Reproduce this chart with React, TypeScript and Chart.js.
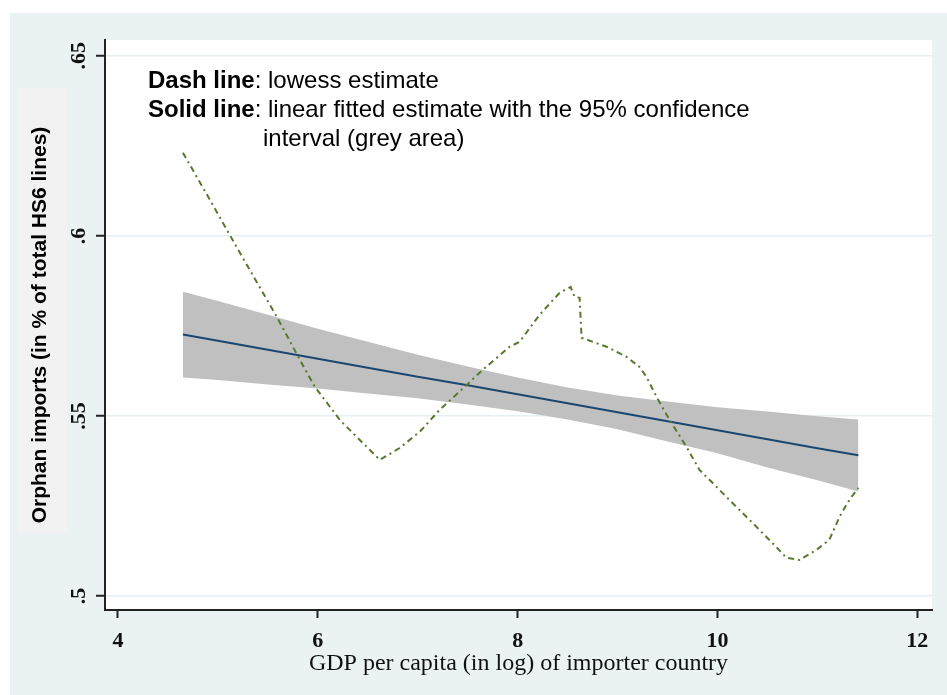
import React, { useEffect, useRef } from "react";
import { Chart, registerables } from "chart.js";
Chart.register(...registerables);

// Lowess estimate (dashed green)
const lowessX = [4.65, 4.92, 5.22, 5.59, 5.82, 5.97, 6.22, 6.45, 6.62, 6.82, 7.02, 7.22, 7.49, 7.65, 7.92, 8.02, 8.22, 8.42, 8.53, 8.57, 8.62, 8.64, 8.89, 9.09, 9.22, 9.29, 9.39, 9.52, 9.69, 9.82, 9.99, 10.19, 10.39, 10.55, 10.69, 10.82, 10.99, 11.12, 11.22, 11.32, 11.41];
const lowessY = [0.6231, 0.61, 0.5953, 0.5775, 0.5656, 0.5581, 0.5489, 0.5425, 0.5378, 0.5411, 0.5456, 0.5517, 0.5586, 0.5628, 0.5692, 0.5706, 0.5781, 0.5842, 0.5858, 0.5831, 0.5828, 0.5717, 0.5692, 0.5664, 0.5636, 0.5608, 0.5553, 0.5489, 0.5414, 0.535, 0.5303, 0.5247, 0.5192, 0.5147, 0.5106, 0.51, 0.5128, 0.5156, 0.5219, 0.5267, 0.53];

// Linear fit and 95% CI
const fitX = [4.65, 5, 5.5, 6, 6.5, 7, 7.5, 8, 8.5, 9, 9.5, 10, 10.5, 11, 11.41];
const fitY = [0.5726, 0.5709, 0.5684, 0.5659, 0.5634, 0.5609, 0.5585, 0.556, 0.5535, 0.551, 0.5485, 0.546, 0.5435, 0.541, 0.5391];
const ciUpper = [0.5845, 0.5819, 0.5781, 0.5742, 0.5706, 0.567, 0.5637, 0.5607, 0.5579, 0.5557, 0.554, 0.5524, 0.5512, 0.5499, 0.549];
const ciLower = [0.5607, 0.56, 0.5587, 0.5576, 0.5562, 0.5549, 0.5532, 0.5513, 0.549, 0.5463, 0.5429, 0.5396, 0.5357, 0.5321, 0.529];

const xTickValues = [4, 6, 8, 10, 12];
const xTickLabels = ["4", "6", "8", "10", "12"];
const yTickValues = [0.5, 0.55, 0.6, 0.65];
const yTickLabels = [".5", ".55", ".6", ".65"];

const xTitle = "GDP per capita (in log) of importer country";
const yTitle = "Orphan imports (in % of total HS6 lines)";
const noteLines: [string, string][] = [
  ["Dash line", ": lowess estimate"],
  ["Solid line", ": linear fitted estimate with the 95% confidence"],
  ["", "interval (grey area)"],
];

const toPts = (xs: number[], ys: number[]) => xs.map((x, i) => ({ x, y: ys[i] }));

const SANS = '"Liberation Sans", Arial, Helvetica, sans-serif';
const SERIF = '"Liberation Serif", "Times New Roman", serif';

const backgroundPlugin = {
  id: "stataBackground",
  beforeDraw(chart: any) {
    const { ctx, chartArea } = chart;
    ctx.save();
    ctx.fillStyle = "#ffffff";
    ctx.fillRect(0, 0, chart.width, chart.height);
    ctx.fillStyle = "#eaf2f3";
    ctx.fillRect(10, 13, chart.width - 10, chart.height - 13);
    ctx.fillStyle = "#f2f2f2";
    ctx.fillRect(18, 88, 49, 445);
    ctx.fillStyle = "#ffffff";
    ctx.fillRect(chartArea.left, chartArea.top, chartArea.right - chartArea.left, chartArea.bottom - chartArea.top);
    ctx.restore();
  },
};

const notePlugin = {
  id: "noteText",
  afterDatasetsDraw(chart: any) {
    const { ctx, chartArea } = chart;
    ctx.save();
    ctx.fillStyle = "#000000";
    ctx.textBaseline = "middle";
    const x0 = chartArea.left + 43;
    const y0 = chartArea.top + 41;
    const lh = 29;
    const reg = `24px ${SANS}`;
    const bold = `bold 24px ${SANS}`;
    ctx.font = bold;
    const indent = ctx.measureText(noteLines[1][0]).width;
    ctx.font = reg;
    const colonW = ctx.measureText(": ").width;
    noteLines.forEach(([b, r], i) => {
      const y = y0 + i * lh;
      let x = x0;
      if (b) {
        ctx.font = bold;
        ctx.fillText(b, x, y);
        x += ctx.measureText(b).width;
      } else {
        x += indent + colonW - 5;
      }
      ctx.font = reg;
      ctx.fillText(r, x, y);
    });
    ctx.restore();
  },
};

export default function App() {
  const ref = useRef<HTMLCanvasElement>(null);
  useEffect(() => {
    document.body.style.margin = "0";
    const chart = new Chart(ref.current as HTMLCanvasElement, {
      type: "line",
      data: {
        datasets: [
          {
            label: "Lowess",
            data: toPts(lowessX, lowessY),
            borderColor: "#58792b",
            borderWidth: 2,
            borderDash: [6, 4, 2, 4],
            pointRadius: 0,
            fill: false,
            tension: 0,
          },
          {
            label: "Linear fit",
            data: toPts(fitX, fitY),
            borderColor: "#1a476f",
            borderWidth: 2,
            pointRadius: 0,
            fill: false,
          },
          {
            label: "CI upper",
            data: toPts(fitX, ciUpper),
            borderWidth: 0,
            borderColor: "rgba(0,0,0,0)",
            backgroundColor: "#c0c0c0",
            pointRadius: 0,
            fill: "+1",
          },
          {
            label: "CI lower",
            data: toPts(fitX, ciLower),
            borderWidth: 0,
            borderColor: "rgba(0,0,0,0)",
            pointRadius: 0,
            fill: false,
          },
        ],
      },
      options: {
        responsive: false,
        animation: false,
        devicePixelRatio: 1,
        layout: { padding: { left: 10, top: 40, right: 15, bottom: 0 } },
        plugins: {
          legend: { display: false },
          tooltip: { enabled: false },
        },
        scales: {
          x: {
            type: "linear",
            min: 3.87,
            max: 12.147,
            afterBuildTicks: (s: any) => {
              s.ticks = xTickValues.map((v) => ({ value: v }));
            },
            afterFit: (s: any) => {
              s.height = 85;
            },
            grid: {
              drawOnChartArea: false,
              drawTicks: true,
              tickLength: 8,
              tickColor: "#222",
              tickWidth: 2,
            },
            border: { display: true, color: "#222", width: 2 },
            ticks: {
              autoSkip: false,
              maxRotation: 0,
              padding: 10,
              color: "#111",
              font: { family: SERIF, size: 22, weight: "bold" },
              callback: (v: any) => xTickLabels[xTickValues.indexOf(Number(v))] ?? "",
            },
            title: {
              display: true,
              text: xTitle,
              color: "#111",
              font: { family: SERIF, size: 24 },
              padding: { top: 0, bottom: 17 },
            },
          },
          y: {
            type: "linear",
            min: 0.4961,
            max: 0.6544,
            afterBuildTicks: (s: any) => {
              s.ticks = yTickValues.map((v) => ({ value: v }));
            },
            afterFit: (s: any) => {
              s.width = 95;
            },
            grid: {
              color: "#e6eef1",
              lineWidth: 1.5,
              drawTicks: true,
              tickLength: 9,
              tickColor: "#222",
              tickWidth: 2,
            },
            border: { display: true, color: "#222", width: 2 },
            ticks: {
              autoSkip: false,
              minRotation: 90,
              maxRotation: 90,
              crossAlign: "center",
              padding: 3,
              color: "#111",
              font: { family: SERIF, size: 22, weight: "bold" },
              callback: (v: any) => yTickLabels[yTickValues.indexOf(Number(v))] ?? "",
            },
            title: {
              display: true,
              text: yTitle,
              color: "#000",
              font: { family: SANS, size: 21, weight: "bold" },
              padding: { top: 18, bottom: 0 },
            },
          },
        },
      },
      plugins: [backgroundPlugin, notePlugin],
    } as any);
    return () => chart.destroy();
  }, []);
  return (
    <div style={{ width: 947, height: 695, position: "relative" }}>
      <canvas ref={ref} width={947} height={695} style={{ display: "block" }} />
    </div>
  );
}
